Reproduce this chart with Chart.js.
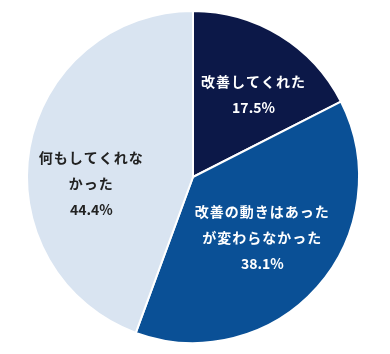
<!DOCTYPE html>
<html><head><meta charset="utf-8">
<script src="https://cdn.jsdelivr.net/npm/chart.js@4"></script>
<style>html,body{margin:0;padding:0;background:#fff}#wrap{width:390px;height:354px}</style>
</head><body><div id="wrap"><canvas id="c" width="390" height="354"></canvas></div>
<script>
const categories = [["改善してくれた"], ["改善の動きはあった", "が変わらなかった"], ["何もしてくれな", "かった"]];
const values = [17.5, 38.1, 44.4];
const valueLabels = ["17.5%", "38.1%", "44.4%"];
const colors = ["#0c1848", "#0a5096", "#d9e4f1"];
const textColors = ["#ffffff", "#ffffff", "#222222"];

const labelPlugin = {
  id: 'sliceLabels',
  afterDatasetsDraw(chart) {
    const ctx = chart.ctx;
    const meta = chart.getDatasetMeta(0);
    const place = [{f:0.61,a:4.5},{f:0.55,a:0},{f:0.62,a:-14}];
    meta.data.forEach((arc, i) => {
      const p = arc.getProps(['x','y','startAngle','endAngle','outerRadius']);
      const mid = (p.startAngle + p.endAngle)/2 + place[i].a*Math.PI/180;
      const r = p.outerRadius * place[i].f;
      const cx = p.x + Math.cos(mid)*r;
      const cy = p.y + Math.sin(mid)*r;
      const lines = categories[i].concat([valueLabels[i]]);
      const lh = 26;
      ctx.save();
      ctx.font = 'bold 14px "Noto Sans CJK JP", sans-serif';
      ctx.fillStyle = textColors[i];
      ctx.textAlign = 'center';
      ctx.textBaseline = 'middle';
      lines.forEach((t, k) => {
        ctx.letterSpacing = /%$/.test(t) ? '0px' : '1px';
        ctx.fillText(t, cx + 1, cy + (k - (lines.length-1)/2)*lh);
      });
      ctx.restore();
    });
  }
};

new Chart(document.getElementById('c'), {
  type: 'pie',
  data: {
    labels: categories.map(c => c.join('')),
    datasets: [{ data: values, backgroundColor: colors, borderColor: '#ffffff', borderWidth: 2 }]
  },
  options: {
    responsive: false,
    animation: false,
    layout: { padding: { left: 8, right: 12, top: 10, bottom: 10 } },
    plugins: { legend: { display: false }, tooltip: { enabled: false } }
  },
  plugins: [labelPlugin]
});
</script>
</body></html>
